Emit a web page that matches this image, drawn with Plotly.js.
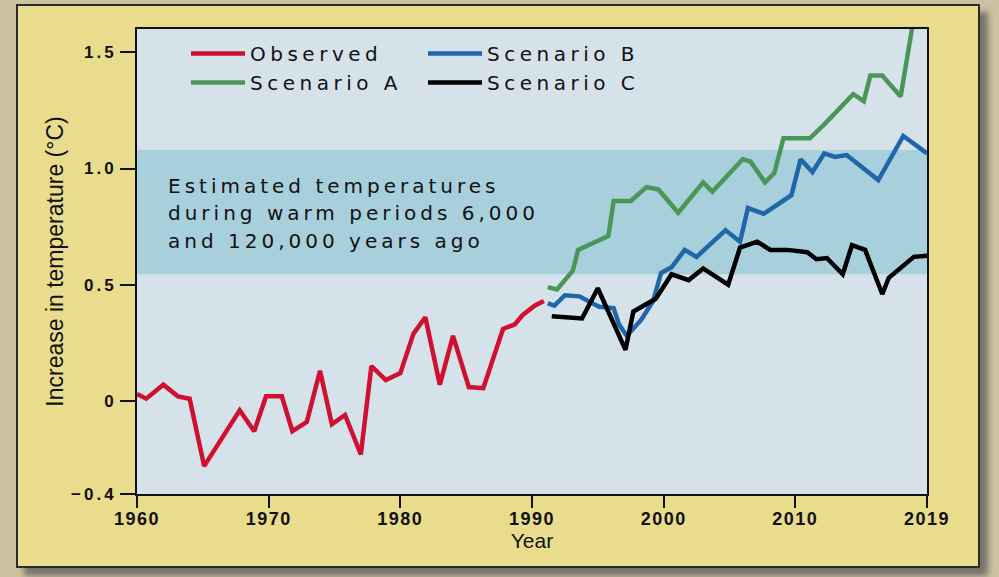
<!DOCTYPE html>
<html><head><meta charset="utf-8">
<script src="https://cdn.plot.ly/plotly-3.0.1.min.js"></script>
<style>
html,body{margin:0;padding:0;width:999px;height:577px;overflow:hidden;background:#cdc3a3;}
#panel{position:absolute;left:16px;top:4px;width:960px;height:560px;background:#e9dc8c;border:2px solid #2a2a2a;box-shadow:8px 8px 6px rgba(90,90,90,0.75);}
#chart{position:absolute;left:0;top:0;width:999px;height:577px;}
text.legendtext, text.legend2text{letter-spacing:4.5px;}
.annotation-text{letter-spacing:4px;}
.ytick text{letter-spacing:3px;}
.xtick text{letter-spacing:1.5px;}
</style></head>
<body>
<div id="panel"></div>
<div id="chart"></div>
<script>
// Observed
const obsYears = [1960, 1960.7, 1962, 1963.1, 1964, 1965.1, 1967.8, 1968.9, 1969.8, 1971, 1971.8, 1972.9, 1973.9, 1974.8, 1975.8, 1977, 1977.8, 1978.9, 1980, 1981, 1981.9, 1983, 1984, 1985.2, 1986.3, 1987.8, 1988.7, 1989.3, 1990.2, 1990.9];
const obsTemp  = [0.03, 0.01, 0.07, 0.02, 0.01, -0.28, -0.04, -0.13, 0.02, 0.02, -0.13, -0.09, 0.13, -0.1, -0.06, -0.23, 0.15, 0.09, 0.12, 0.29, 0.36, 0.07, 0.28, 0.06, 0.055, 0.31, 0.33, 0.37, 0.41, 0.43];
// Scenario A
const scenAYears = [1991.2, 1991.9, 1993.1, 1993.5, 1995.8, 1996.2, 1997.5, 1998.7, 1999.6, 2001.1, 2003, 2003.7, 2006, 2006.6, 2007.7, 2008.4, 2009.1, 2011.1, 2012.2, 2014.4, 2015.2, 2015.7, 2016.6, 2018, 2019.3];
const scenATemp  = [0.49, 0.48, 0.56, 0.65, 0.71, 0.86, 0.86, 0.92, 0.91, 0.81, 0.94, 0.90, 1.04, 1.03, 0.94, 0.98, 1.13, 1.13, 1.19, 1.32, 1.29, 1.40, 1.40, 1.31, 1.75];
// Scenario B
const scenBYears = [1991.2, 1991.7, 1992.5, 1993.6, 1995.1, 1996.2, 1996.6, 1997.2, 1998.3, 1999.2, 1999.8, 2000.6, 2001.6, 2002.5, 2004.7, 2005.8, 2006.4, 2007.6, 2009.7, 2010.4, 2011.3, 2012.2, 2013, 2013.9, 2016.3, 2018.2, 2020];
const scenBTemp  = [0.42, 0.41, 0.455, 0.45, 0.405, 0.40, 0.33, 0.28, 0.35, 0.43, 0.55, 0.575, 0.65, 0.62, 0.735, 0.685, 0.83, 0.805, 0.885, 1.04, 0.985, 1.065, 1.05, 1.058, 0.95, 1.14, 1.065];
// Scenario C
const scenCYears = [1991.5, 1993.8, 1995, 1997.1, 1997.7, 1999.4, 2000.6, 2001.9, 2003, 2004.9, 2005.8, 2007.1, 2008.1, 2009.4, 2010.9, 2011.6, 2012.4, 2013.6, 2014.3, 2015.3, 2016.6, 2017.1, 2019, 2020];
const scenCTemp  = [0.365, 0.355, 0.485, 0.22, 0.385, 0.44, 0.545, 0.52, 0.57, 0.50, 0.66, 0.685, 0.65, 0.65, 0.64, 0.61, 0.615, 0.545, 0.67, 0.65, 0.46, 0.53, 0.62, 0.625];

// Warm-period band
const bandRange = [0.545, 1.08];
const bandText = ["Estimated temperatures", "during warm periods 6,000", "and 120,000 years ago"];

// Axis ticks
const xTickVals = [1960, 1970, 1980, 1990, 2000, 2010, 2020];
const xTickText = ["1960", "1970", "1980", "1990", "2000", "2010", "2019"];
const yTickVals = [-0.4, 0, 0.5, 1.0, 1.5];
const yTickText = ["\u22120.4", "0", "0.5", "1.0", "1.5"];

const seriesNames = ["Observed", "Scenario A", "Scenario B", "Scenario C"];
const colors = ["#cf1030", "#4a9657", "#1f67aa", "#000000"];

const lw = 4.5;
const traces = [
  {x: obsYears, y: obsTemp, name: seriesNames[0], legend: "legend", line: {color: colors[0], width: lw}},
  {x: scenAYears, y: scenATemp, name: seriesNames[1], legend: "legend", line: {color: colors[1], width: lw}},
  {x: scenBYears, y: scenBTemp, name: seriesNames[2], legend: "legend2", line: {color: colors[2], width: lw}},
  {x: scenCYears, y: scenCTemp, name: seriesNames[3], legend: "legend2", line: {color: colors[3], width: lw}}
].map(t => Object.assign({type: "scatter", mode: "lines", hoverinfo: "skip"}, t));

const legendFont = {family: "DejaVu Sans", size: 20, color: "#111"};
const annots = bandText.map((t, i) => ({
  text: t, xref: "paper", yref: "paper",
  x: 0.037, y: 1 - (186 - 29 + i * 27.5) / 465,
  xanchor: "left", yanchor: "middle", showarrow: false,
  font: {family: "DejaVu Sans", size: 20, color: "#111"}
}));

const layout = {
  width: 999, height: 577,
  margin: {l: 137, r: 72, t: 29, b: 83, pad: 0, autoexpand: false},
  paper_bgcolor: "rgba(0,0,0,0)",
  plot_bgcolor: "#d5e2ea",
  showlegend: true,
  xaxis: {
    range: [1960, 2020], tickvals: xTickVals, ticktext: xTickText, automargin: false,
    showgrid: false, zeroline: false, showline: true, mirror: true,
    linecolor: "#111", linewidth: 2, ticks: "outside", ticklen: 12, tickwidth: 2, tickcolor: "#111",
    ticklabelstandoff: -5,
    tickfont: {family: "Liberation Sans", size: 18, weight: "bold", color: "#111"},
    title: {text: "Year", standoff: 2, font: {family: "Liberation Sans", size: 21, color: "#111"}}
  },
  yaxis: {
    range: [-0.4, 1.6], tickvals: yTickVals, ticktext: yTickText, automargin: false,
    showgrid: false, zeroline: false, showline: true, mirror: true,
    linecolor: "#111", linewidth: 2, ticks: "outside", ticklen: 15, tickwidth: 2, tickcolor: "#111",
    ticklabelstandoff: 0,
    tickfont: {family: "Liberation Sans", size: 17, weight: "bold", color: "#111"},
    title: {text: "Increase in temperature (\u00B0C)", standoff: 1, font: {family: "Liberation Sans", size: 23, color: "#111"}}
  },
  shapes: [{
    type: "rect", xref: "paper", yref: "y", x0: 0, x1: 1, y0: bandRange[0], y1: bandRange[1],
    fillcolor: "#a8cfdc", line: {width: 0}, layer: "below"
  }],
  annotations: annots,
  legend: {
    xref: "paper", yref: "paper", x: (186 - 137) / 790, y: (494 - 34) / 465, xanchor: "left", yanchor: "top",
    bgcolor: "rgba(0,0,0,0)", borderwidth: 0, font: legendFont, itemwidth: 54, traceorder: "normal"
  },
  legend2: {
    xref: "paper", yref: "paper", x: (423 - 137) / 790, y: (494 - 34) / 465, xanchor: "left", yanchor: "top",
    bgcolor: "rgba(0,0,0,0)", borderwidth: 0, font: legendFont, itemwidth: 54, traceorder: "normal"
  }
};

Plotly.newPlot("chart", traces, layout, {displayModeBar: false, staticPlot: true}).then(() => {
  // keep the letter-spaced legend labels from being clipped by the legend box
  document.querySelectorAll("#chart g.legend [clip-path], #chart g.legend2 [clip-path]").forEach(el => {
    el.removeAttribute("clip-path");
  });
});
</script>
</body></html>
